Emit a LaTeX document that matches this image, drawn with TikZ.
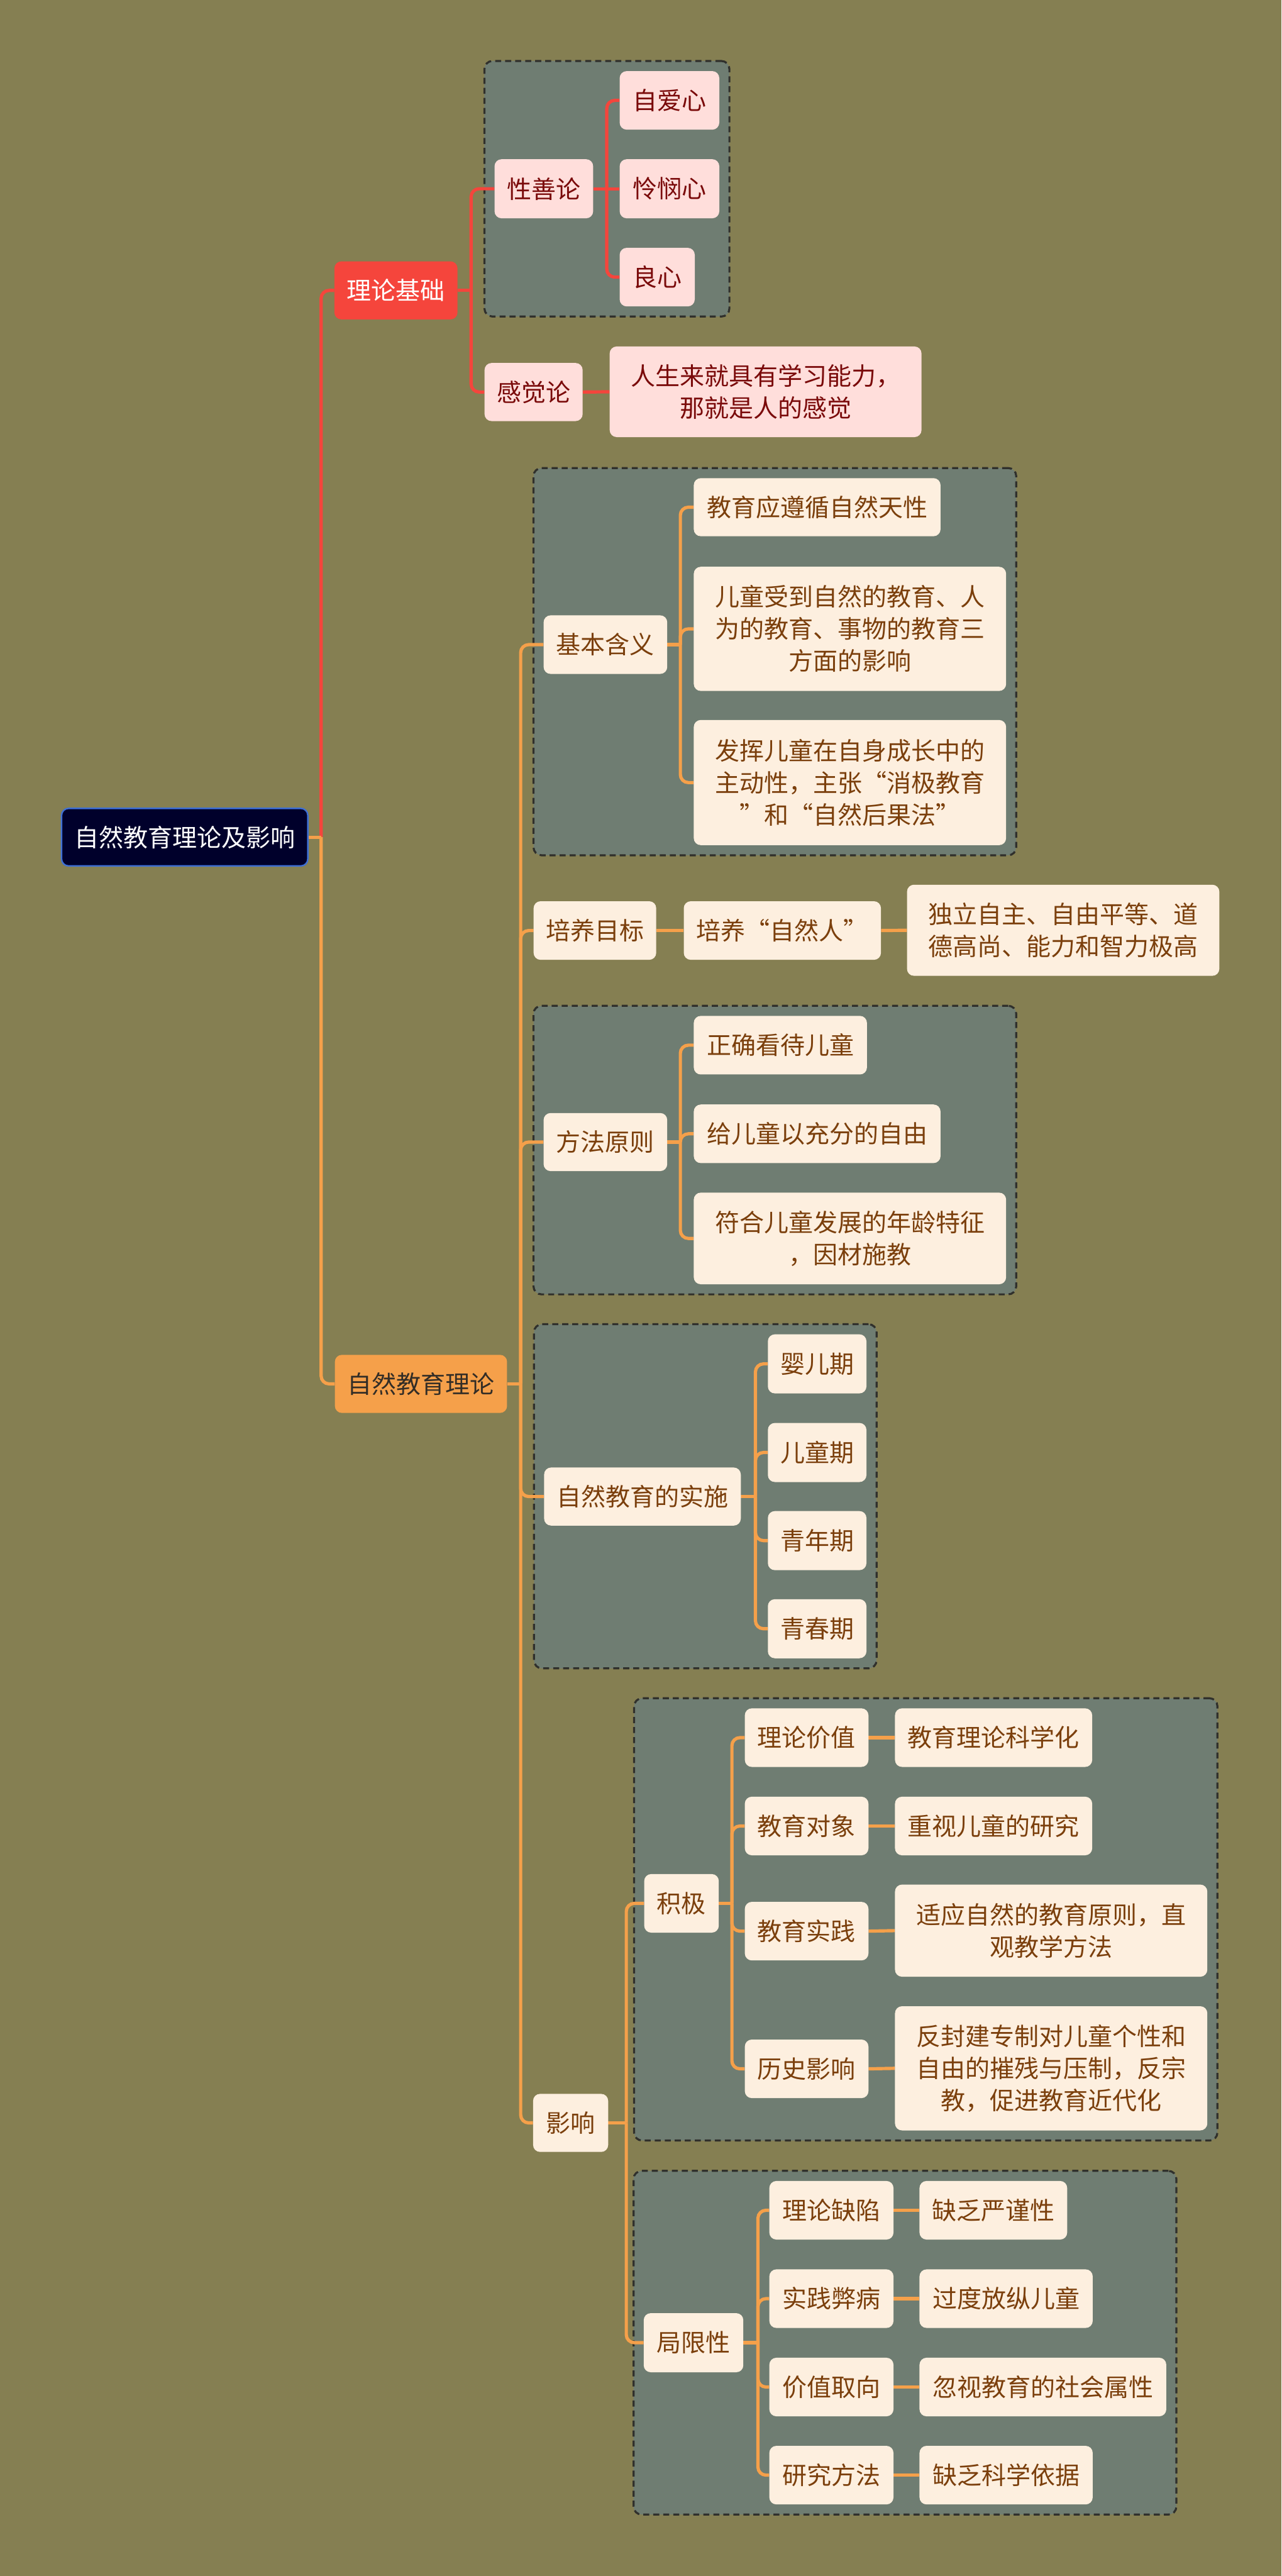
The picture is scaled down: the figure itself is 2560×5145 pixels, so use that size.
\documentclass[tikz,border=0pt]{standalone}
\usepackage{fontspec}
\newfontfamily\cjk{Noto Sans CJK SC}
\usetikzlibrary{fit}
\definecolor{bgc}{RGB}{133,127,82}
\definecolor{grpfill}{RGB}{111,125,114}
\definecolor{grpline}{RGB}{48,48,44}
\definecolor{pinkc}{RGB}{255,222,219}
\definecolor{pinktext}{RGB}{122,10,10}
\definecolor{redc}{RGB}{245,69,60}
\definecolor{creamc}{RGB}{253,239,223}
\definecolor{brownc}{RGB}{123,63,12}
\definecolor{orangec}{RGB}{245,160,74}
\definecolor{darktext}{RGB}{51,45,38}
\definecolor{rootfill}{RGB}{0,0,43}
\definecolor{rootline}{RGB}{62,111,213}
\pgfdeclarelayer{bgl}
\pgfdeclarelayer{grp}
\pgfdeclarelayer{lns}
\pgfsetlayers{bgl,grp,lns,main}
\begin{document}
\begin{tikzpicture}[x=1pt,y=-1pt,
  base/.style={rectangle, rounded corners=14pt, inner sep=0pt, align=center,
    font=\cjk\fontsize{49}{64}\selectfont},
  sz/.style 2 args={minimum width=#1pt, minimum height=#2pt},
  cream/.style={base, fill=creamc, text=brownc},
  pink/.style={base, fill=pinkc, text=pinktext},
  grpbox/.style={draw=grpline, fill=grpfill, dash pattern=on 12pt off 8pt,
    line width=4pt, rounded corners=16pt, inner sep=20pt},
  rl/.style={draw=redc, line width=6.5pt},
  ol/.style={draw=orangec, line width=6.5pt},
  rc/.style={rounded corners=16pt}]
\useasboundingbox (0,0) rectangle (2560,5145);
\begin{pgfonlayer}{bgl}
\fill[bgc] (0,0) rectangle (2560,5145);
\end{pgfonlayer}

% root
\node[base, fill=rootfill, draw=rootline, line width=3pt, text=white, sz={492}{115}] (root) at (369,1672) {自然教育理论及影响};

% red branch
\node[base, fill=redc, text=white, sz={246}{116}] (llj) at (791,580) {理论基础};
\node[pink, sz={197}{118}] (xsl) at (1086.5,377) {性善论};
\node[pink, sz={199}{117}] (zax) at (1337.5,200.5) {自爱心};
\node[pink, sz={199}{118}] (llx) at (1337.5,377) {怜悯心};
\node[pink, sz={150}{117}] (lx) at (1313,553.5) {良心};
\node[pink, sz={196}{116}] (gjl) at (1066,783) {感觉论};
\node[pink, sz={623}{181}] (rsl) at (1529.5,782.5) {人生来就具有学习能力，\\那就是人的感觉};

% orange branch
\node[base, fill=orangec, text=darktext, sz={344}{116}] (zrj) at (841,2764) {自然教育理论};

\node[cream, sz={247}{117}] (jbhy) at (1209.5,1287.5) {基本含义};
\node[cream, sz={493}{116}] (a1) at (1632.5,1013) {教育应遵循自然天性};
\node[cream, sz={624}{248}] (a2) at (1698,1256) {儿童受到自然的教育、人\\为的教育、事物的教育三\\方面的影响};
\node[cream, sz={624}{250}] (a3) at (1698,1563) {发挥儿童在自身成长中的\\主动性，主张“消极教育\\”和“自然后果法”};

\node[cream, sz={245}{117}] (pymb) at (1188.5,1858.5) {培养目标};
\node[cream, sz={394}{117}] (pyzr) at (1563,1858.5) {培养“自然人”};
\node[cream, sz={624}{182}] (dlzz) at (2124,1858) {独立自主、自由平等、道\\德高尚、能力和智力极高};

\node[cream, sz={247}{116}] (ffyz) at (1209.5,2281) {方法原则};
\node[cream, sz={346}{117}] (b1) at (1559,2087.5) {正确看待儿童};
\node[cream, sz={493}{117}] (b2) at (1632.5,2264.5) {给儿童以充分的自由};
\node[cream, sz={624}{183}] (b3) at (1698,2473.5) {符合儿童发展的年龄特征\\，因材施教};

\node[cream, sz={393}{116}] (ss) at (1283.5,2989) {自然教育的实施};
\node[cream, sz={197}{118}] (c1) at (1632.5,2724) {婴儿期};
\node[cream, sz={197}{118}] (c2) at (1632.5,2901) {儿童期};
\node[cream, sz={197}{118}] (c3) at (1632.5,3077) {青年期};
\node[cream, sz={197}{118}] (c4) at (1632.5,3253) {青春期};

\node[cream, sz={150}{116}] (yx) at (1140,4240) {影响};
\node[cream, sz={149}{117}] (jj) at (1361.5,3801.5) {积极};
\node[cream, sz={247}{117}] (d1) at (1611.5,3470.5) {理论价值};
\node[cream, sz={394}{117}] (d1r) at (1985,3470.5) {教育理论科学化};
\node[cream, sz={247}{117}] (d2) at (1611.5,3647) {教育对象};
\node[cream, sz={394}{117}] (d2r) at (1985,3647) {重视儿童的研究};
\node[cream, sz={247}{117}] (d3) at (1611.5,3857) {教育实践};
\node[cream, sz={624}{184}] (d3r) at (2100,3856) {适应自然的教育原则，直\\观教学方法};
\node[cream, sz={247}{117}] (d4) at (1611.5,4132) {历史影响};
\node[cream, sz={624}{248}] (d4r) at (2100,4131) {反封建专制对儿童个性和\\自由的摧残与压制，反宗\\教，促进教育近代化};

\node[cream, sz={199}{118}] (jxx) at (1385.5,4679) {局限性};
\node[cream, sz={248}{117}] (e1) at (1661,4414.5) {理论缺陷};
\node[cream, sz={295}{117}] (e1r) at (1984.5,4414.5) {缺乏严谨性};
\node[cream, sz={248}{117}] (e2) at (1661,4591) {实践弊病};
\node[cream, sz={346}{117}] (e2r) at (2010,4591) {过度放纵儿童};
\node[cream, sz={248}{117}] (e3) at (1661,4767.5) {价值取向};
\node[cream, sz={493}{117}] (e3r) at (2083.5,4767.5) {忽视教育的社会属性};
\node[cream, sz={248}{117}] (e4) at (1661,4943.5) {研究方法};
\node[cream, sz={346}{117}] (e4r) at (2010,4943.5) {缺乏科学依据};

% groups
\begin{pgfonlayer}{grp}
\node[grpbox, fit=(xsl)(zax)(lx)] (g1) {};
\node[grpbox, fit=(jbhy)(a1)(a2)(a3)] (g2) {};
\node[grpbox, fit=(ffyz)(b1)(b3)] (g3) {};
\node[grpbox, fit=(ss)(c1)(c4)] (g4) {};
\node[grpbox, fit=(jj)(d1)(d4r)] (g5) {};
\node[grpbox, fit=(jxx)(e1)(e3r)(e4)] (g6) {};
\end{pgfonlayer}

% connectors
\begin{pgfonlayer}{lns}
\coordinate (jR) at ([xshift=25pt]root.east);
\draw[rl, rc] (jR) |- (llj.west);
\draw[ol, rc] (jR) |- (zrj.west);
\draw[ol] (root.east) -- (jR);

\coordinate (jL) at ([xshift=27pt]llj.east);
\draw[rl] (llj.east) -- (jL);
\draw[rl, rc] (jL) |- (xsl.west);
\draw[rl, rc] (jL) |- (gjl.west);
\coordinate (jX) at ([xshift=27pt]xsl.east);
\draw[rl] (xsl.east) -- (llx.west);
\draw[rl, rc] (jX) |- (zax.west);
\draw[rl, rc] (jX) |- (lx.west);
\draw[rl] (gjl.east) -- (rsl.west);

\coordinate (jZ) at ([xshift=27pt]zrj.east);
\draw[ol] (zrj.east) -- (jZ);
\draw[ol, rc] (jZ) |- (jbhy.west);
\draw[ol, rc] (jZ) |- (pymb.west);
\draw[ol, rc] (jZ) |- (ffyz.west);
\draw[ol, rc] (jZ) |- (ss.west);
\draw[ol, rc] (jZ) |- (yx.west);

\coordinate (jJ) at ([xshift=26pt]jbhy.east);
\draw[ol] (jbhy.east) -- (jJ);
\draw[ol, rc] (jJ) |- (a1.west);
\draw[ol, rc] (jJ) |- (a2.west);
\draw[ol, rc] (jJ) |- (a3.west);

\draw[ol] (pymb.east) -- (pyzr.west);
\draw[ol] (pyzr.east) -- (dlzz.west);

\coordinate (jF) at ([xshift=26pt]ffyz.east);
\draw[ol] (ffyz.east) -- (jF);
\draw[ol, rc] (jF) |- (b1.west);
\draw[ol, rc] (jF) |- (b2.west);
\draw[ol, rc] (jF) |- (b3.west);

\coordinate (jS) at ([xshift=29pt]ss.east);
\draw[ol] (ss.east) -- (jS);
\draw[ol, rc] (jS) |- (c1.west);
\draw[ol, rc] (jS) |- (c2.west);
\draw[ol, rc] (jS) |- (c3.west);
\draw[ol, rc] (jS) |- (c4.west);

\coordinate (jY) at ([xshift=36pt]yx.east);
\draw[ol] (yx.east) -- (jY);
\draw[ol, rc] (jY) |- (jj.west);
\draw[ol, rc] (jY) |- (jxx.west);

\coordinate (jK) at ([xshift=26pt]jj.east);
\draw[ol] (jj.east) -- (jK);
\draw[ol, rc] (jK) |- (d1.west);
\draw[ol, rc] (jK) |- (d2.west);
\draw[ol, rc] (jK) |- (d3.west);
\draw[ol, rc] (jK) |- (d4.west);
\draw[ol] (d1.east) -- (d1r.west);
\draw[ol] (d2.east) -- (d2r.west);
\draw[ol] (d3.east) -- (d3r.west);
\draw[ol] (d4.east) -- (d4r.west);

\coordinate (jG) at ([xshift=29pt]jxx.east);
\draw[ol] (jxx.east) -- (jG);
\draw[ol, rc] (jG) |- (e1.west);
\draw[ol, rc] (jG) |- (e2.west);
\draw[ol, rc] (jG) |- (e3.west);
\draw[ol, rc] (jG) |- (e4.west);
\draw[ol] (e1.east) -- (e1r.west);
\draw[ol] (e2.east) -- (e2r.west);
\draw[ol] (e3.east) -- (e3r.west);
\draw[ol] (e4.east) -- (e4r.west);
\end{pgfonlayer}
\end{tikzpicture}
\end{document}
